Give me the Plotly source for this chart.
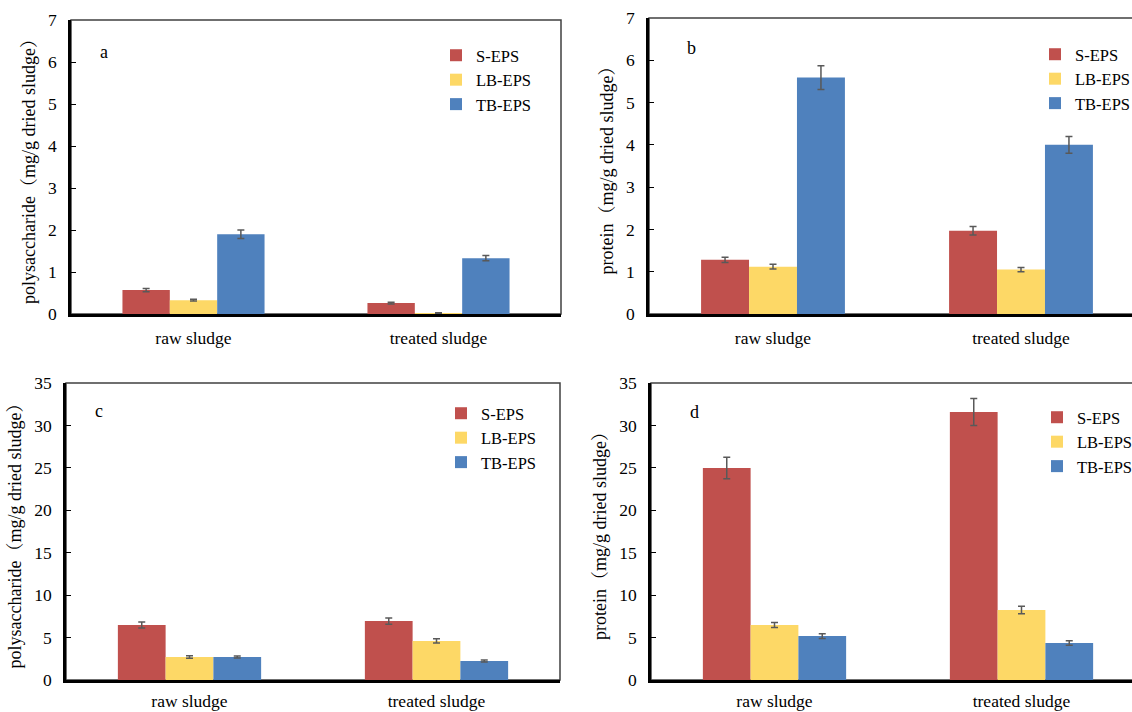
import plotly.graph_objects as go

categories = ["raw sludge", "treated sludge"]
series_names = ["S-EPS", "LB-EPS", "TB-EPS"]
colors = ["#C0504D", "#FDD866", "#4F81BD"]

# panel a: polysaccharide (range 0-7)
a_vals = {"S-EPS": [0.57, 0.26], "LB-EPS": [0.33, 0.02], "TB-EPS": [1.90, 1.33]}
a_err = {"S-EPS": [0.04, 0.02], "LB-EPS": [0.02, 0.01], "TB-EPS": [0.10, 0.06]}
# panel b: protein (range 0-7)
b_vals = {"S-EPS": [1.28, 1.97], "LB-EPS": [1.12, 1.05], "TB-EPS": [5.59, 4.00]}
b_err = {"S-EPS": [0.06, 0.10], "LB-EPS": [0.055, 0.05], "TB-EPS": [0.28, 0.20]}
# panel c: polysaccharide (range 0-35)
c_vals = {"S-EPS": [6.48, 6.95], "LB-EPS": [2.71, 4.60], "TB-EPS": [2.71, 2.24]}
c_err = {"S-EPS": [0.35, 0.37], "LB-EPS": [0.15, 0.25], "TB-EPS": [0.12, 0.12]}
# panel d: protein (range 0-35)
d_vals = {"S-EPS": [24.98, 31.58], "LB-EPS": [6.48, 8.25], "TB-EPS": [5.18, 4.36]}
d_err = {"S-EPS": [1.26, 1.60], "LB-EPS": [0.30, 0.43], "TB-EPS": [0.28, 0.26]}

panel_letters = ["a", "b", "c", "d"]
y_titles = ["polysaccharide（mg/g dried sludge）", "protein（mg/g dried sludge）",
            "polysaccharide（mg/g dried sludge）", "protein（mg/g dried sludge）"]
y_max = [7, 7, 35, 35]
y_dtick = [1, 1, 5, 5]

FONT = "Liberation Serif, Noto Serif CJK SC, Noto Sans CJK SC, serif"
# figure is slightly wider than the 1132px window; the right panels' frames run off the edge
W, H = 1150, 712

# panel boxes in pixels: left, right, top, bottom
boxes = [(71, 561, 20, 314), (649, 1145, 18, 314), (66, 560, 383, 680), (651, 1145, 383, 680)]
legend_pos = [(436, 38), (1035, 37), (441, 396), (1037, 400)]
letter_pos = [(104, 52), (691, 48), (99, 411), (694, 412)]
x_label_standoff = [6, 6, 3, 3]

panels = [(a_vals, a_err), (b_vals, b_err), (c_vals, c_err), (d_vals, d_err)]

fig = go.Figure()
layout = dict(
    width=W, height=H, margin=dict(l=0, r=0, t=0, b=0, autoexpand=False),
    paper_bgcolor="white", plot_bgcolor="white",
    barmode="group", bargap=0.42, bargroupgap=0,
    font=dict(family=FONT, size=16, color="black"),
    showlegend=True, shapes=[], annotations=[],
)

for i, (vals, errs) in enumerate(panels):
    idx = "" if i == 0 else str(i + 1)
    xa, ya = "x" + idx, "y" + idx
    leg = "legend" + idx
    for s, col in zip(series_names, colors):
        fig.add_trace(go.Bar(
            x=categories, y=vals[s], name=s, marker=dict(color=col, line=dict(width=0)),
            error_y=dict(type="data", array=errs[s], color="#595959", thickness=1.5, width=3.5),
            xaxis=xa, yaxis=ya, legend=leg,
        ))
    l, r, t, b = boxes[i]
    layout["xaxis" + idx] = dict(
        domain=[l / W, r / W], anchor=ya, showline=True, linecolor="black", linewidth=2.5,
        ticks="", ticklabelstandoff=x_label_standoff[i], showgrid=False, zeroline=False,
        automargin=False, tickfont=dict(family=FONT, size=17.5, color="black"),
    )
    layout["yaxis" + idx] = dict(
        domain=[1 - b / H, 1 - t / H], anchor=xa, range=[0, y_max[i]], dtick=y_dtick[i],
        showline=True, linecolor="black", linewidth=2.5, ticks="inside", ticklen=5,
        tickcolor="black", showgrid=False, zeroline=False, automargin=False,
        ticklabelstandoff=8,
        tickfont=dict(family=FONT, size=17.5, color="black"),
        title=dict(text=y_titles[i], font=dict(family=FONT, size=18, color="black"), standoff=8),
    )
    lx, ly = legend_pos[i]
    layout[leg] = dict(
        x=lx / W, y=1 - ly / H, xanchor="left", yanchor="top", bgcolor="rgba(0,0,0,0)",
        font=dict(family=FONT, size=16.5, color="black"), itemwidth=30, tracegroupgap=0,
    )
    layout["shapes"].append(dict(
        type="rect", xref=xa + " domain", yref=ya + " domain", x0=0, x1=1, y0=0, y1=1,
        line=dict(color="#404040", width=1.5), layer="below",
    ))
    px, py = letter_pos[i]
    layout["annotations"].append(dict(
        text=panel_letters[i], x=px / W, y=1 - py / H, xref="paper", yref="paper",
        xanchor="center", yanchor="middle",
        showarrow=False, font=dict(family=FONT, size=18, color="black"),
    ))

fig.update_layout(**layout)
fig.write_html(
    "out.html",
    config={"displayModeBar": False},
    post_script="document.body.style.margin='0';document.body.style.overflow='hidden';",
)
